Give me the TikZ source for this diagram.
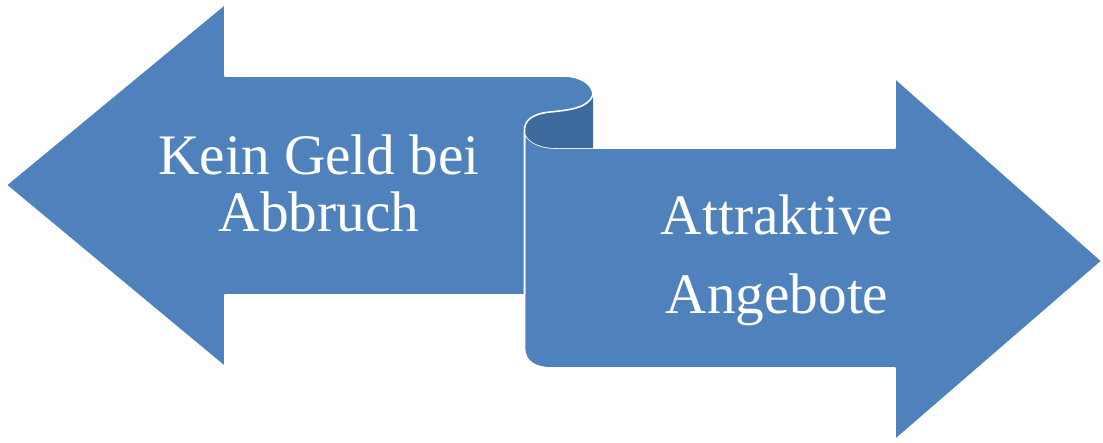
\documentclass[tikz,border=0pt]{standalone}
\usepackage{fontspec}
\setmainfont{Liberation Serif}
\definecolor{ribbon}{HTML}{4F81BD}
\definecolor{ribbondark}{HTML}{3E6A9E}
\begin{document}
\begin{tikzpicture}[x=0.02cm,y=-0.02cm,
  face/.style={fill=ribbon,draw=white,line width=0.9pt,line join=round},
  back/.style={fill=ribbondark},
  label/.style={text=white,align=center,anchor=north,font=\fontsize{32.6}{32.4}\selectfont,inner sep=0pt}]
\useasboundingbox (0,0) rectangle (1103,443);
% right arrow (lower ribbon part)
\path[face] (524.5,130) -- (524.5,348) .. controls (524.5,362) and (536,368) .. (552,368)
  -- (895,368) -- (895,440) -- (1102,261) -- (895,78) -- (895,148) -- (555,148)
  .. controls (538,148) and (524.5,140) .. (524.5,130) -- cycle;
% back side of the curl
\path[back] (593,95) -- (593,148) -- (555,148)
  .. controls (538,148) and (524.5,140) .. (524.5,130)
  .. controls (524.5,122) and (530,114) .. (550,112)
  .. controls (570,110) and (588,108) .. (593,95) -- cycle;
% left arrow (front face)
\path[face] (6,185) -- (225,4) -- (225,76) -- (563,76)
  .. controls (580,76) and (593,84) .. (593,95)
  .. controls (588,108) and (570,110) .. (550,112)
  .. controls (530,114) and (524.5,122) .. (524.5,130)
  -- (524.5,295) -- (225,295) -- (225,367) -- cycle;
\node[label] (left) at (319,134) {Kein Geld bei\\Abbruch};
\node[label] (right) at (777,194) {Attraktive\\[12.7pt]Angebote};
\end{tikzpicture}
\end{document}
